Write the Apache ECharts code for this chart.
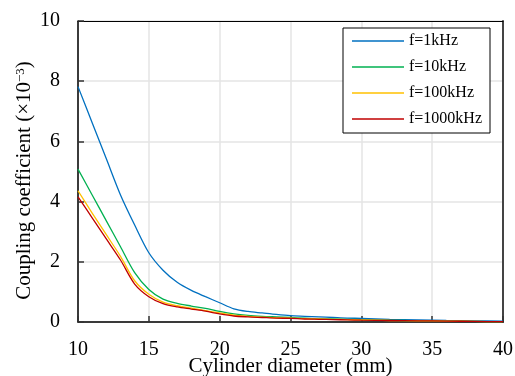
<!DOCTYPE html>
<html>
<head>
<meta charset="utf-8">
<script src="https://cdn.jsdelivr.net/npm/echarts@6/dist/echarts.min.js"></script>
<style>
	html, body { margin: 0; padding: 0; background: #fff; }
	#line-chart { width: 515px; height: 376px; }
</style>
</head>
<body>
<div id="line-chart"></div>
<script>
// 圆柱直径 (mm)
var diameter = [10, 11, 12, 13, 14, 15, 16, 17, 18, 19, 20, 21, 22, 23, 24, 25, 26, 27, 28, 29, 30, 32, 34, 36, 38, 40];
// 耦合系数 (×10^-3)
var k1kHz = [7.82, 6.62, 5.42, 4.22, 3.22, 2.3, 1.72, 1.32, 1.05, 0.84, 0.64, 0.44, 0.35, 0.3, 0.25, 0.21, 0.19, 0.17, 0.15, 0.13, 0.12, 0.09, 0.07, 0.05, 0.04, 0.03];
var k10kHz = [5.08, 4.22, 3.36, 2.5, 1.64, 1.08, 0.76, 0.62, 0.53, 0.45, 0.35, 0.27, 0.22, 0.19, 0.17, 0.15, 0.13, 0.11, 0.1, 0.09, 0.08, 0.06, 0.04, 0.03, 0.02, 0.01];
var k100kHz = [4.36, 3.62, 2.9, 2.18, 1.37, 0.92, 0.66, 0.54, 0.46, 0.38, 0.3, 0.23, 0.19, 0.16, 0.14, 0.13, 0.11, 0.1, 0.09, 0.08, 0.07, 0.05, 0.04, 0.03, 0.02, 0.01];
var k1000kHz = [4.16, 3.46, 2.76, 2.06, 1.26, 0.84, 0.61, 0.5, 0.43, 0.36, 0.27, 0.2, 0.17, 0.15, 0.13, 0.12, 0.1, 0.09, 0.08, 0.07, 0.06, 0.05, 0.04, 0.03, 0.02, 0.01];
var seriesNames = ['f=1kHz', 'f=10kHz', 'f=100kHz', 'f=1000kHz'];
var seriesColors = ['#0070C0', '#00B050', '#FFC000', '#C00000'];

var font = 'Liberation Serif';

function pairs(ys) {
	var arr = new Array();
	for (var i = 0; i < diameter.length; i++) {
		arr[i] = [diameter[i], ys[i]];
	}
	return arr;
}

var allData = [k1kHz, k10kHz, k100kHz, k1000kHz];
var series = new Array();
for (var i = 0; i < allData.length; i++) {
	series.push({
		name: seriesNames[i],
		type: 'line',
		data: pairs(allData[i]),
		symbol: 'none',
		smooth: 0.3,
		color: seriesColors[i],
		lineStyle: { width: 1.3, color: seriesColors[i] }
	});
}

var myChart = echarts.init(document.getElementById('line-chart'));
option = {
	animation: false,
	backgroundColor: '#fff',
	textStyle: { fontFamily: font, color: '#000' },
	grid: { left: 78, right: 12, top: 21, bottom: 54, containLabel: false, outerBoundsMode: 'none' },
	legend: {
		orient: 'vertical',
		left: 343,
		top: 28,
		padding: [5, 8, 6, 9],
		icon: 'rect',
		itemWidth: 52,
		itemHeight: 1.6,
		itemGap: 10,
		backgroundColor: '#fff',
		borderColor: '#000',
		borderWidth: 1,
		textStyle: { fontFamily: font, fontSize: 16, lineHeight: 16, color: '#000' },
		data: seriesNames
	},
	xAxis: [
		{
			type: 'value',
			min: 10,
			max: 40,
			interval: 5,
			name: 'Cylinder diameter (mm)',
			nameLocation: 'middle',
			nameGap: 34,
			nameMoveOverlap: false,
			nameTextStyle: { fontFamily: font, fontSize: 21, color: '#000' },
			axisLine: { lineStyle: { color: '#000', width: 1.5 } },
			axisTick: { inside: true, length: 6, lineStyle: { color: '#333', width: 1.5 } },
			axisLabel: { fontFamily: font, fontSize: 20, color: '#000', margin: 18 },
			splitLine: { show: true, lineStyle: { color: '#e4e4e4', width: 1.5 } }
		},
		{
			type: 'value',
			position: 'top',
			min: 10,
			max: 40,
			interval: 5,
			axisLine: { show: true, onZero: false, lineStyle: { color: '#000', width: 1 } },
			axisTick: { show: false },
			axisLabel: { show: false },
			splitLine: { show: false }
		}
	],
	yAxis: [
		{
			type: 'value',
			min: 0,
			max: 10,
			interval: 2,
			name: 'Coupling coefficient (×10{sup|−3})',
			nameLocation: 'middle',
			nameGap: 43,
			nameMoveOverlap: false,
			nameTextStyle: {
				fontFamily: font,
				fontSize: 21,
				color: '#000',
				padding: [0, 18, 0, 0],
				rich: {
					sup: { fontFamily: font, fontSize: 13, verticalAlign: 'top', color: '#000' }
				}
			},
			axisLine: { show: true, lineStyle: { color: '#000', width: 1.5 } },
			axisTick: { show: true, inside: true, length: 6, lineStyle: { color: '#333', width: 1.5 } },
			axisLabel: { fontFamily: font, fontSize: 20, color: '#000', margin: 18 },
			splitLine: { show: true, lineStyle: { color: '#e4e4e4', width: 1.5 } }
		},
		{
			type: 'value',
			position: 'right',
			min: 0,
			max: 10,
			interval: 2,
			axisLine: { show: true, onZero: false, lineStyle: { color: '#444', width: 2 } },
			axisTick: { show: false },
			axisLabel: { show: false },
			splitLine: { show: false }
		}
	],
	series: series
};
myChart.setOption(option);//渲染数据
</script>
</body>
</html>
